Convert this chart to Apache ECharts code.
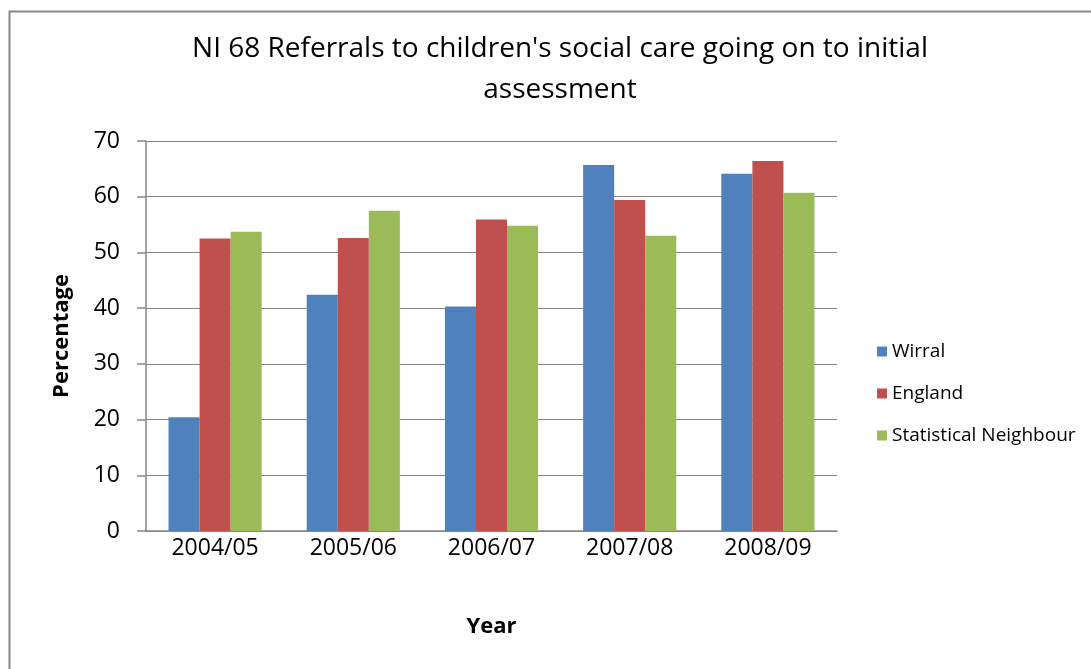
<!DOCTYPE html>
<html>
<head>
<meta charset="utf-8">
<script src="https://cdn.jsdelivr.net/npm/echarts@6/dist/echarts.min.js"></script>
<style>
html,body{margin:0;padding:0;background:#fff;}
#chart{width:1091px;height:669px;}
</style>
</head>
<body>
<div id="chart"></div>
<script>
const categories = ['2004/05', '2005/06', '2006/07', '2007/08', '2008/09'];
const wirral = [20.4, 42.4, 40.3, 65.7, 64.1];
const england = [52.5, 52.6, 55.9, 59.4, 66.4];
const statNeighbour = [53.7, 57.5, 54.8, 53.0, 60.7];
const seriesNames = ['Wirral', 'England', 'Statistical Neighbour'];
const titleText = "NI 68 Referrals to children's social care going on to initial\nassessment";

const FONT = '"Open Sans", "Noto Sans", sans-serif';
const chart = echarts.init(document.getElementById('chart'), null, {renderer: 'canvas'});
const mk = (name, data, color) => ({
  name, type: 'bar', data, barGap: '0%', barCategoryGap: '32.6%',
  itemStyle: {color}, emphasis: {disabled: true}
});
chart.setOption({
  animation: false,
  backgroundColor: '#ffffff',
  graphic: [{
    type: 'rect', left: 7, top: 9, z: 100, silent: true,
    shape: {x: 0, y: 0, width: 1200, height: 800},
    style: {fill: 'none', stroke: '#888888', lineWidth: 2}
  }],
  title: {
    text: titleText, left: 555, top: 24, textAlign: 'center',
    textStyle: {fontFamily: FONT, fontSize: 28, fontWeight: 'normal', color: '#000', lineHeight: 41}
  },
  legend: {
    orient: 'vertical', left: 877, top: 342, padding: 0,
    itemWidth: 10, itemHeight: 10, itemGap: 23, icon: 'rect',
    data: seriesNames,
    textStyle: {fontFamily: FONT, fontSize: 19, color: '#000', lineHeight: 19, padding: [0, 0, 0, 0]}
  },
  grid: {left: 146, right: 254, top: 141, bottom: 138, containLabel: false},
  xAxis: {
    type: 'category', data: categories,
    name: 'Year', nameLocation: 'middle', nameGap: 85,
    nameTextStyle: {fontFamily: FONT, fontSize: 22, fontWeight: 'bold', color: '#000'},
    axisLine: {show: true, lineStyle: {color: '#868686', width: 1.5}},
    axisTick: {show: false},
    axisLabel: {fontFamily: FONT, fontSize: 23, color: '#000', margin: 6}
  },
  yAxis: {
    type: 'value', min: 0, max: 70, interval: 10,
    name: 'Percentage', nameLocation: 'middle', nameGap: 73, nameRotate: 90,
    nameTextStyle: {fontFamily: FONT, fontSize: 22, fontWeight: 'bold', color: '#000'},
    axisLine: {show: true, lineStyle: {color: '#868686', width: 1.5}},
    axisTick: {show: true, length: 9, inside: false, lineStyle: {color: '#868686', width: 1.5}},
    axisLabel: {fontFamily: FONT, fontSize: 23, color: '#000', margin: 26},
    splitLine: {show: true, lineStyle: {color: '#868686', width: 1.2}}
  },
  series: [
    mk(seriesNames[0], wirral, '#4F81BD'),
    mk(seriesNames[1], england, '#C0504D'),
    mk(seriesNames[2], statNeighbour, '#9BBB59')
  ]
});
</script>
</body>
</html>
